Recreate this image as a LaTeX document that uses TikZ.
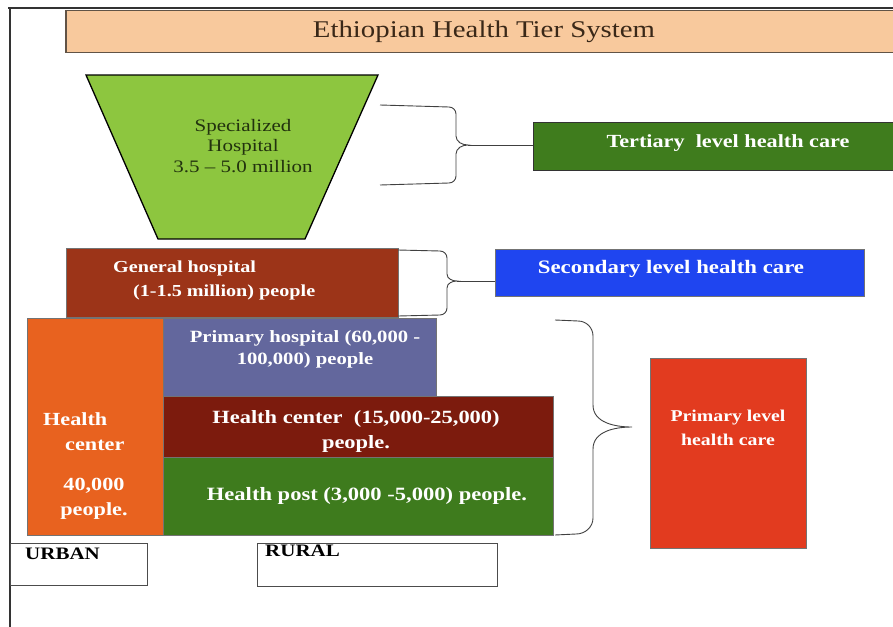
\documentclass[tikz,border=0pt]{standalone}
\usepackage{fontspec}
\setmainfont{Liberation Serif}[FakeStretch=1.2]

\definecolor{titlefill}{HTML}{F8C99D}
\definecolor{titleink}{HTML}{3A2818}
\definecolor{specfill}{HTML}{8DC63F}
\definecolor{specink}{HTML}{22320E}
\definecolor{tertfill}{HTML}{3F7C1D}
\definecolor{genfill}{HTML}{9C3418}
\definecolor{secfill}{HTML}{1F45F0}
\definecolor{urbanfill}{HTML}{E8621F}
\definecolor{primfill}{HTML}{63679D}
\definecolor{hcfill}{HTML}{7C1B0D}
\definecolor{hpfill}{HTML}{3E7B1D}
\definecolor{plevfill}{HTML}{E23B1F}

\newcommand{\tsize}[2]{\fontsize{#1}{#2}\selectfont}

\tikzset{
    tier/.style={draw=black!55, line width=0.75, anchor=north west, inner sep=0pt},
    tiertext/.style={text=white, align=center, inner sep=0pt},
    bracket/.style={line width=0.9, draw=black!75},
}

\begin{document}
\begin{tikzpicture}[x=1pt, y=-1pt]
        \useasboundingbox (0,0) rectangle (893,626);

        \draw[line width=1.5, black!80] (8,8) -- (900,8);
        \draw[line width=1.5, black!80] (10,8) -- (10,630);

        \node[tier, draw=titleink!80, line width=1.5, fill=titlefill, minimum width=840, minimum height=42] (title) at (65,10) {};
        \node[text=titleink, font=\tsize{24}{28}] (titlelabel) at (484,32) {Ethiopian Health Tier System};

        \draw[line width=1.3, fill=specfill] (86,75) -- (378,75) -- (305,239) -- (158,239) -- cycle;
        \node[text=specink, align=center, font=\tsize{17.5}{20.5}] (spec) at (243,146) {Specialized\\Hospital\\3.5 -- 5.0 million};

        \node[tier, draw=black!80, fill=tertfill, minimum width=370, minimum height=48] (tertiary) at (533,122) {};
        \node[tiertext, font=\bfseries\tsize{18.5}{22}] (tertlabel) at (728,143) {Tertiary \ level health care};

        \node[tier, fill=genfill, minimum width=332, minimum height=69] (general) at (66,248) {};
        \node[tiertext, align=left, anchor=west, font=\bfseries\tsize{16.8}{24}] (genlabel) at (113,280) {General hospital\\\hspace*{20pt}(1-1.5 million) people};

        \node[tier, fill=secfill, minimum width=369, minimum height=47] (secondary) at (495,249) {};
        \node[tiertext, font=\bfseries\tsize{19}{22}] (seclabel) at (671,269) {Secondary level health care};

        \node[tier, fill=urbanfill, minimum width=136, minimum height=217] (urbanhc) at (27,318) {};
        \node[tiertext, align=left, anchor=west, font=\bfseries\tsize{18.5}{25}] (urbanname) at (43,432) {Health\\\hspace*{22pt}center};
        \node[tiertext, font=\bfseries\tsize{18.5}{25}] (urbanpop) at (94,499) {40,000\\people.};

        \node[tier, fill=primfill, minimum width=273, minimum height=78] (primhosp) at (163,318) {};
        \node[tiertext, font=\bfseries\tsize{17.2}{22}] (primlabel) at (305,349) {Primary hospital (60,000 -\\100,000) people};

        \node[tier, fill=hcfill, minimum width=390, minimum height=61] (hcenter) at (163,396) {};
        \node[tiertext, font=\bfseries\tsize{18.7}{25}] (hclabel) at (356,431) {Health center \ (15,000-25,000)\\people.};

        \node[tier, fill=hpfill, minimum width=390, minimum height=78] (hpost) at (163,457) {};
        \node[tiertext, font=\bfseries\tsize{18.8}{22}] (hplabel) at (367,496) {Health post (3,000 -5,000) people.};

        \node[tier, fill=plevfill, minimum width=156, minimum height=190] (primary) at (650,358) {};
        \node[tiertext, font=\bfseries\tsize{16.5}{24}] (plevlabel) at (728,428) {Primary level\\health care};

        \node[tier, draw=black!70, fill=white, minimum width=137, minimum height=42] (urban) at (10,543) {};
        \node[anchor=north west, inner sep=0pt, font=\bfseries\tsize{17.5}{20}] (urbanlabel) at (25,548) {URBAN};
        \node[tier, draw=black!70, fill=white, minimum width=240, minimum height=43] (rural) at (257,543) {};
        \node[anchor=north west, inner sep=0pt, font=\bfseries\tsize{17.5}{20}] (rurallabel) at (265,545) {RURAL};

        \coordinate (tertTop) at (380,105);
        \coordinate (tertBot) at (380,185);
        \coordinate (tertTip) at (468,145);
        \draw[bracket] (tertTop) -- (449,107) to[out=0,in=90] (456,114) -- (456,136)
            to[out=270,in=180] (tertTip) to[out=180,in=90] (456,154) -- (456,176)
            to[out=270,in=0] (449,183) -- (tertBot);
        \draw[bracket] (tertTip) -- (tertTip -| tertiary.west);

        \coordinate (secTop) at (398,250);
        \coordinate (secBot) at (398,316);
        \coordinate (secTip) at (457,281);
        \draw[bracket] (secTop) -- (440,251) to[out=0,in=90] (447,258) -- (447,274)
            to[out=270,in=180] (secTip) to[out=180,in=90] (447,288) -- (447,308)
            to[out=270,in=0] (440,315) -- (secBot);
        \draw[bracket] (secTip) -- (secTip -| secondary.west);

        \coordinate (primTop) at (555,320);
        \coordinate (primBot) at (555,535);
        \coordinate (primTip) at (632,427);
        \draw[bracket] (primTop) -- (578,321) to[out=0,in=90] (593,336) -- (593,405)
            to[out=270,in=180] (primTip) to[out=180,in=90] (593,449) -- (593,518)
            to[out=270,in=0] (576,534) -- (primBot);
\end{tikzpicture}
\end{document}
